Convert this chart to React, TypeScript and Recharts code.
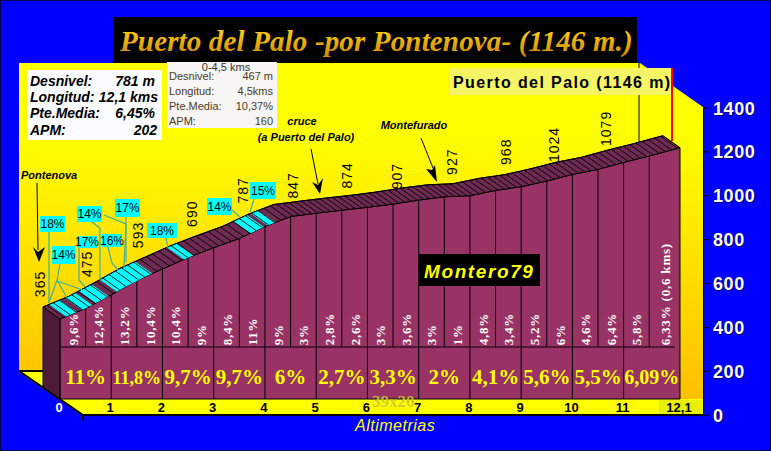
import { ComposedChart, Area, Line, Scatter, XAxis, YAxis, ReferenceLine } from 'recharts';

const kms = [0, 0.5, 1, 1.5, 2, 2.5, 3, 3.5, 4, 4.5, 5, 5.5, 6, 6.5, 7, 7.5, 8, 8.5, 9, 9.5, 10, 10.5, 11, 11.5, 12.1];
const elevations = [365, 413, 475, 541, 593, 645, 690, 732, 787, 832, 847, 861, 874, 889, 907, 922, 927, 951, 968, 994, 1024, 1047, 1079, 1108, 1146];
const markedElevations = [365, null, 475, null, 593, null, 690, null, 787, null, 847, null, 874, null, 907, null, 927, null, 968, null, 1024, null, 1079, null, null];

const gradeKms = [0.25, 0.75, 1.25, 1.75, 2.25, 2.75, 3.25, 3.75, 4.25, 4.75, 5.25, 5.75, 6.25, 6.75, 7.25, 7.75, 8.25, 8.75, 9.25, 9.75, 10.25, 10.75, 11.25, 11.8];
const gradeLabels = ['9,6%', '12,4%', '13,2%', '10,4%', '10,4%', '9%', '8,4%', '11%', '9%', '3%', '2,8%', '2,6%', '3%', '3,6%', '3%', '1%', '4,8%', '3,4%', '5,2%', '6%', '4,6%', '6,4%', '5,8%', '6,33% (0,6 kms)'];

const stageKms = [0.5, 1.5, 2.5, 3.5, 4.5, 5.5, 6.5, 7.5, 8.5, 9.5, 10.5, 11.55];
const stageLabels = ['11%', '11,8%', '9,7%', '9,7%', '6%', '2,7%', '3,3%', '2%', '4,1%', '5,6%', '5,5%', '6,09%'];

// steep stretches painted cyan on the top of the profile
const steepStarts = [0.12, 0.43, 0.7, 1.11, 1.29, 1.64, 2.42, 3.72, 4.05];
const steepEnds = [0.33, 0.63, 0.95, 1.31, 1.64, 1.8, 2.6, 3.98, 4.2];

const xTicks = [0, 1, 2, 3, 4, 5, 6, 7, 8, 9, 10, 11, 12.1];
const yTicks = [0, 200, 400, 600, 800, 1000, 1200, 1400];

const chartData = kms.map((km, i) => ({ km, elevation: elevations[i], marked: markedElevations[i] }));
const gradeData = gradeKms.map((km, i) => ({ km, row: 245, text: gradeLabels[i] }));
const stageData = stageKms.map((km, i) => ({ km, row: 100, text: stageLabels[i] }));

// depth of the 3D look, in pixels
const DX = -17;
const DY = -12;
const BASE_Y = 399;

const labelNudge: Record<number, [number, number]> = {
  0: [-20, -35], 2: [-24, -31], 4: [-24, -34], 6: [-22, -34], 8: [-22, -36], 10: [-23, -28],
  12: [-20, -32], 14: [-22, -24], 16: [-18, -34], 18: [-15, -35], 20: [-18, -30], 22: [-18, -34],
};

const sans = '"Liberation Sans", Arial, sans-serif';
const serif = '"Liberation Serif", "Times New Roman", serif';
const narrow = '"Liberation Sans Narrow", "Liberation Sans", sans-serif';

function yAt(points: any[], x: number) {
  for (let i = 0; i < points.length - 1; i++) {
    if (x <= points[i + 1].x) {
      const t = (x - points[i].x) / (points[i + 1].x - points[i].x);
      return points[i].y + t * (points[i + 1].y - points[i].y);
    }
  }
  return points[points.length - 1].y;
}

function xOfKm(points: any[], km: number) {
  const first = points[0];
  const last = points[points.length - 1];
  return first.x + ((last.x - first.x) * km) / 12.1;
}

// everything on top of the profile is drawn once, from the line's own points
function RibbonDot(props: any) {
  const { index, points } = props;
  if (index !== 0 || !points) return <g key={index} />;
  const first = points[0];
  const last = points[points.length - 1];
  const front = points.map((p: any) => `${p.x},${p.y}`).join(' ');
  const back = [...points].reverse().map((p: any) => `${p.x + DX},${p.y + DY}`).join(' ');
  const hatches = [];
  for (let x = first.x + 4; x < last.x; x += 6.2) {
    const y = yAt(points, x);
    hatches.push(<line key={x} x1={x} y1={y} x2={x + DX} y2={y + DY} stroke="#000" strokeWidth={0.9} />);
  }
  return (
    <g key="ribbon">
      <polygon
        points={`${first.x + DX},${first.y + DY} ${first.x},${first.y} ${first.x},${BASE_Y} ${first.x + DX},${BASE_Y + DY}`}
        fill="#4d1a38"
        stroke="#000"
      />
      <polygon points={`${front} ${back}`} fill="#6e2a50" stroke="#000" />
      {steepStarts.map((start, i) => {
        const x1 = xOfKm(points, start);
        const x2 = xOfKm(points, steepEnds[i]);
        const y1 = yAt(points, x1);
        const y2 = yAt(points, x2);
        return (
          <polygon
            key={start}
            points={`${x1},${y1} ${x2},${y2} ${x2 + DX},${y2 + DY} ${x1 + DX},${y1 + DY}`}
            fill="#00ffff"
          />
        );
      })}
      {hatches}
      <polyline points={back} fill="none" stroke="#000" />
    </g>
  );
}

function ElevationLabel(props: any) {
  const { x, y, value, index } = props;
  if (value == null) return null;
  const [dx, dy] = labelNudge[index] || [-20, -32];
  const cx = x + dx;
  const cy = y + dy;
  return (
    <text
      x={cx}
      y={cy + 5}
      transform={`rotate(-90 ${cx} ${cy})`}
      textAnchor="middle"
      fontFamily={sans}
      fontSize={14}
      letterSpacing={1}
      fill="#000"
    >
      {value}
    </text>
  );
}

function GradeShape(props: any) {
  const { cx, cy, payload } = props;
  return (
    <text
      x={cx + 5}
      y={cy}
      transform={`rotate(-90 ${cx + 5} ${cy})`}
      fontFamily={serif}
      fontWeight={700}
      fontSize={13}
      letterSpacing={0.8}
      fill="#fff"
    >
      {payload.text}
    </text>
  );
}

function StageShape(props: any) {
  const { cx, cy, payload } = props;
  const size = payload.text === '11,8%' ? 18 : payload.text === '6,09%' ? 20 : 21;
  return (
    <text x={cx} y={cy + 7} textAnchor="middle" fontFamily={serif} fontWeight={700} fontSize={size} fill="#ffff00">
      {payload.text}
    </text>
  );
}

function KmTick(props: any) {
  const { x, y, payload } = props;
  const text = String(payload.value).replace('.', ',');
  return (
    <text
      x={x - 1}
      y={y - 11}
      textAnchor="middle"
      fontFamily={sans}
      fontWeight={700}
      fontSize={13}
      fill={payload.value === 0 ? '#fff' : '#000'}
    >
      {text}
    </text>
  );
}

function HeightTick(props: any) {
  const { x, y, payload } = props;
  return (
    <g fontFamily={sans} fontWeight={700} fontSize={18} letterSpacing={0.6}>
      <text x={x + 3} y={y + 7.5} fill="#000060">{payload.value}</text>
      <text x={x + 2} y={y + 6.5} fill="#fff">{payload.value}</text>
    </g>
  );
}

function Backdrop() {
  return (
    <svg width={771} height={451} style={{ position: 'absolute', left: 0, top: 0 }}>
      <defs>
        <linearGradient id="wall" x1="0" y1="63" x2="0" y2="415" gradientUnits="userSpaceOnUse">
          <stop offset="0.2" stopColor="#ffff00" />
          <stop offset="0.95" stopColor="#ffc000" />
        </linearGradient>
      </defs>
      <rect width={771} height={451} fill="#0000ff" />
      <polygon points="19,63 640,63 703,107 703,399 19,399" fill="url(#wall)" />
      <polygon points="19,371 43,371 43,388 60,399 703,399 703,415 83,415" fill="#ffff00" />
      <polygon points="19,372 83,416 19,416" fill="#0000ff" />
      <rect x={659} y={400} width={43} height={14} fill="#e6f000" />
      <path d="M19 371 L43 371 M19 371 L83 415 L703 415 M83 415 V420" stroke="#000" strokeWidth={2} fill="none" />
      <path d="M639 63 V144" stroke="#000" strokeWidth={1} />
      <path d="M672 68 V141" stroke="#ff0000" strokeWidth={2} />
      <path d="M703.5 108 V420" stroke="#000" strokeWidth={1} />
    </svg>
  );
}

function Arrow({ d, head }: { d: string; head: string }) {
  return (
    <g>
      <path d={d} stroke="#000" strokeWidth={1} fill="none" />
      <path d={head} fill="#000" />
    </g>
  );
}

function Callout({ x, y, w, h, text }: { x: number; y: number; w: number; h: number; text: string }) {
  return (
    <g>
      <rect x={x} y={y} width={w} height={h} fill="#00ffff" />
      <text x={x + w / 2} y={y + h / 2 + 4} textAnchor="middle" fontFamily={sans} fontSize={12} fill="#000">{text}</text>
    </g>
  );
}

function Overlay() {
  const leaders = [
    'M49 232 V303',
    'M60 264 L57 280 L49 303 M57 280 L67 298 M57 281 L83 290',
    'M79 248 V280 L85 287',
    'M92 222 L100 228 V280 M104 215 L126 224 L124 267',
    'M108 247 L112 263 L118 270',
    'M126 217 V262',
    'M166 238 L168 248',
    'M232 210 L240 217',
    'M254 199 L250 212',
  ];
  return (
    <svg width={771} height={451} style={{ position: 'absolute', left: 0, top: 0 }}>
      <defs>
        <linearGradient id="gold" x1="0" y1="28" x2="0" y2="56" gradientUnits="userSpaceOnUse">
          <stop offset="0" stopColor="#ffd21a" />
          <stop offset="1" stopColor="#d08a00" />
        </linearGradient>
      </defs>
      <rect x={0.5} y={0.5} width={770} height={450} fill="none" stroke="#000050" />

      <rect x={113} y={17} width={524} height={46} fill="#000" />
      <text x={120} y={51} fontFamily={serif} fontStyle="italic" fontWeight={700} fontSize={29} letterSpacing={0.15} fill="url(#gold)">
        Puerto del Palo -por Pontenova- (1146 m.)
      </text>

      <rect x={27} y={70} width={135} height={70} fill="#fafcff" />
      <g fontFamily={sans} fontStyle="italic" fontWeight={700} fontSize={14} fill="#000">
        <text x={30} y={86}>Desnivel:</text>
        <text x={30} y={102}>Longitud:</text>
        <text x={30} y={118}>Pte.Media:</text>
        <text x={30} y={135}>APM:</text>
        <text x={155} y={86} textAnchor="end">781 m</text>
        <text x={158} y={102} textAnchor="end">12,1 kms</text>
        <text x={155} y={118} textAnchor="end">6,45%</text>
        <text x={157} y={135} textAnchor="end">202</text>
      </g>

      <rect x={167} y={62} width={110} height={66} fill="#f8f5f5" />
      <g fontFamily={narrow} fontSize={11} fill="#4a3c20">
        <text x={226} y={71} textAnchor="middle" fill="#333">0-4,5 kms</text>
        <text x={169} y={80}>Desnivel:</text>
        <text x={169} y={95}>Longitud:</text>
        <text x={169} y={110}>Pte.Media:</text>
        <text x={169} y={125}>APM:</text>
        <text x={273} y={80} textAnchor="end">467 m</text>
        <text x={273} y={95} textAnchor="end">4,5kms</text>
        <text x={273} y={110} textAnchor="end">10,37%</text>
        <text x={273} y={125} textAnchor="end">160</text>
      </g>

      <rect x={450} y={68} width={221} height={27} fill="#f4f464" />
      <text x={453} y={88} fontFamily={sans} fontWeight={700} fontSize={16} letterSpacing={1.4} fill="#000">
        Puerto del Palo (1146 m)
      </text>

      <g fontFamily={narrow} fontStyle="italic" fontWeight={700} fontSize={11} fill="#000">
        <text x={21} y={179}>Pontenova</text>
        <text x={302} y={125} textAnchor="middle">cruce</text>
        <text x={306} y={141} textAnchor="middle">(a Puerto del Palo)</text>
        <text x={414} y={129} textAnchor="middle">Montefurado</text>
      </g>

      <Arrow d="M37 183 L38 250" head="M33 247 L38 252 L45 247 L39 262 Z" />
      <Arrow d="M311 149 L318 184" head="M312 182 L318 185 L323 178 L320 194 Z" />
      <Arrow d="M421 138 L433 168" head="M426 169 L432 170 L435 165 L437 182 Z" />

      <g stroke="#40b0a0" strokeWidth={1.2} fill="none">
        {leaders.map((d) => <path key={d} d={d} />)}
      </g>
      <Callout x={40} y={216} w={25} h={16} text="18%" />
      <Callout x={52} y={246} w={23} h={18} text="14%" />
      <Callout x={77} y={236} w={20} h={12} text="17%" />
      <Callout x={77} y={206} w={25} h={16} text="14%" />
      <Callout x={102} y={234} w={20} h={13} text="16%" />
      <Callout x={115} y={199} w={25} h={18} text="17%" />
      <Callout x={147} y={223} w={30} h={15} text="18%" />
      <Callout x={207} y={198} w={25} h={17} text="14%" />
      <Callout x={250} y={182} w={26} h={17} text="15%" />

      <rect x={419} y={254} width={121} height={32} fill="#000" />
      <text x={424} y={278} fontFamily={sans} fontStyle="italic" fontWeight={700} fontSize={19} letterSpacing={1.6} fill="#ffff00">
        Montero79
      </text>
      <text x={372} y={407} fontFamily={serif} fontWeight={700} fontSize={17} fill="#c8c830" opacity={0.85}>39x20</text>
      <text x={355} y={431} fontFamily={sans} fontStyle="italic" fontSize={16} letterSpacing={0.5} fill="#ffff00">Altimetrias</text>
    </svg>
  );
}

export default function App() {
  return (
    <div style={{ position: 'absolute', left: 0, top: 0, width: 771, height: 451, overflow: 'hidden' }}>
      <Backdrop />
      <div style={{ position: 'absolute', left: 0, top: 0 }}>
        <ComposedChart width={771} height={451} data={chartData} margin={{ top: 92, right: 0, bottom: 0, left: 60 }}>
          <XAxis
            dataKey="km"
            type="number"
            domain={[0, 12.1]}
            ticks={xTicks}
            padding={{ left: 0, right: 23 }}
            height={36}
            axisLine={false}
            tickLine={false}
            tick={KmTick}
            interval={0}
          />
          <YAxis yAxisId="front" hide type="number" domain={[0, 1400]} padding={{ top: 0, bottom: 16 }} />
          <YAxis
            yAxisId="display"
            orientation="right"
            type="number"
            domain={[0, 1400]}
            ticks={yTicks}
            width={68}
            padding={{ top: 16, bottom: 0 }}
            axisLine={false}
            tickLine={{ stroke: '#000' }}
            tick={HeightTick}
            interval={0}
          />
          <Area
            yAxisId="front"
            type="linear"
            dataKey="elevation"
            fill="#993366"
            fillOpacity={1}
            stroke="#000"
            isAnimationActive={false}
          />
          {/* keeps the right-hand axis alive, draws nothing */}
          <Line
            yAxisId="display"
            type="linear"
            dataKey="elevation"
            stroke="none"
            dot={false}
            activeDot={false}
            legendType="none"
            isAnimationActive={false}
          />
          <Line
            yAxisId="front"
            type="linear"
            dataKey="elevation"
            stroke="none"
            dot={RibbonDot}
            activeDot={false}
            isAnimationActive={false}
          />
          {kms.map((km, i) => (
            <ReferenceLine
              key={km}
              yAxisId="front"
              stroke="#000"
              segment={[
                { x: km, y: elevations[i] },
                { x: km, y: Number.isInteger(km) || km === 12.1 ? 0 : 237 },
              ]}
            />
          ))}
          <ReferenceLine yAxisId="front" stroke="#000" segment={[{ x: 0, y: 237 }, { x: 12, y: 237 }]} />
          <ReferenceLine yAxisId="front" stroke="#000" segment={[{ x: 0, y: 0 }, { x: 12.1, y: 0 }]} />
          <Line
            yAxisId="front"
            type="linear"
            dataKey="marked"
            stroke="none"
            dot={false}
            activeDot={false}
            label={ElevationLabel}
            isAnimationActive={false}
          />
          <Scatter yAxisId="front" data={gradeData} dataKey="row" shape={GradeShape} isAnimationActive={false} />
          <Scatter yAxisId="front" data={stageData} dataKey="row" shape={StageShape} isAnimationActive={false} />
        </ComposedChart>
      </div>
      <Overlay />
    </div>
  );
}
